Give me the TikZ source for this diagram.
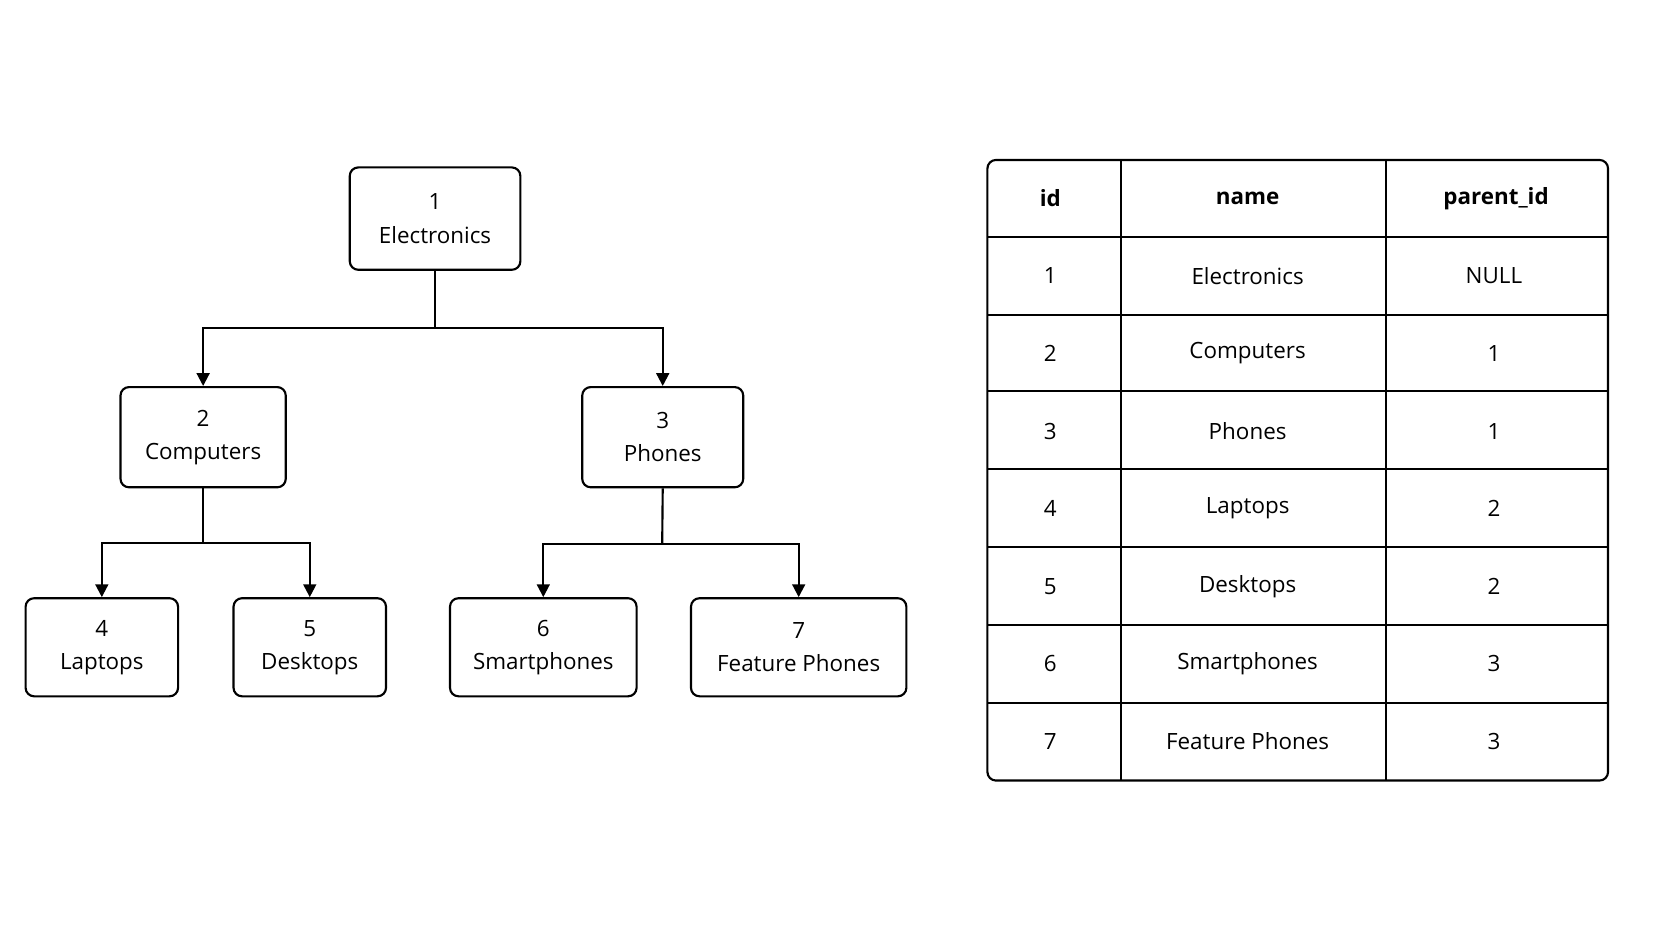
\documentclass[tikz,border=0pt]{standalone}
\usepackage{fontspec}
\setmainfont{Open Sans}
\usetikzlibrary{arrows.meta}
\begin{document}
\begin{tikzpicture}[x=0.5pt,y=-0.5pt,
  box/.style={draw,line width=1pt,rounded corners=4pt,align=center,font=\fontsize{10.5}{15.5}\selectfont,inner sep=0pt},
  conn/.style={line width=1pt,-{Triangle[length=6pt,width=6pt]}},
  cell/.style={font=\fontsize{10.5}{13}\selectfont},
  head/.style={font=\bfseries\fontsize{10.5}{13}\selectfont},
  grid/.style={line width=1pt}]
\useasboundingbox (0,0) rectangle (1568,882);
\fill[white] (0,0) rectangle (1568,882);
\node[box,minimum width=80pt,minimum height=48pt] (n1) at (408,205) {1\\Electronics};
\node[box,minimum width=77.5pt,minimum height=47pt] (n2) at (190.5,410) {2\\Computers};
\node[box,minimum width=75.5pt,minimum height=47pt] (n3) at (621.5,410) {3\\Phones};
\node[box,minimum width=71.5pt,minimum height=46pt] (n4) at (95.5,607) {4\\Laptops};
\node[box,minimum width=71.5pt,minimum height=46pt] (n5) at (290.5,607) {5\\Desktops};
\node[box,minimum width=87.5pt,minimum height=46pt] (n6) at (509.5,607) {6\\Smartphones};
\node[box,minimum width=101pt,minimum height=46pt] (n7) at (749,607) {7\\Feature Phones};
\coordinate (b1) at (408,308);
\coordinate (b2) at (190.5,509);
\coordinate (b3) at (621,510);
\draw[line width=1pt] (n1.south) -- (b1);
\draw[conn] (b1) -| (n2.north);
\draw[conn] (b1) -| (n3.north);
\draw[line width=1pt] (n2.south) -- (b2);
\draw[conn] (b2) -| (n4.north);
\draw[conn] (b2) -| (n5.north);
\draw[line width=1pt] (n3.south) -- (b3);
\draw[conn] (b3) -| (n6.north);
\draw[conn] (b3) -| (n7.north);
% table
\draw[grid,rounded corners=4pt] (926,150) rectangle (1508,732);
\foreach \y in {222,295,367,440,513,586,659} \draw[grid] (926,\y) -- (1508,\y);
\draw[grid] (1051,150) -- (1051,732);
\draw[grid] (1300,150) -- (1300,732);
\node[head] (h1) at (985,186) {id};
\node[head] (h2) at (1170,186) {name};
\node[head] (h3) at (1403,186) {parent\_id};
\foreach \i/\n/\p [count=\k] in {1/Electronics/NULL,2/Computers/1,3/Phones/1,4/Laptops/2,5/Desktops/2,6/Smartphones/3,7/Feature Phones/3}{
  \pgfmathsetmacro\yy{186+72.75*\k}
  \node[cell] (r\k a) at (985,\yy) {\i};
  \node[cell] (r\k b) at (1170,\yy) {\n};
  \node[cell] (r\k c) at (1401,\yy) {\p};
}
\end{tikzpicture}
\end{document}
